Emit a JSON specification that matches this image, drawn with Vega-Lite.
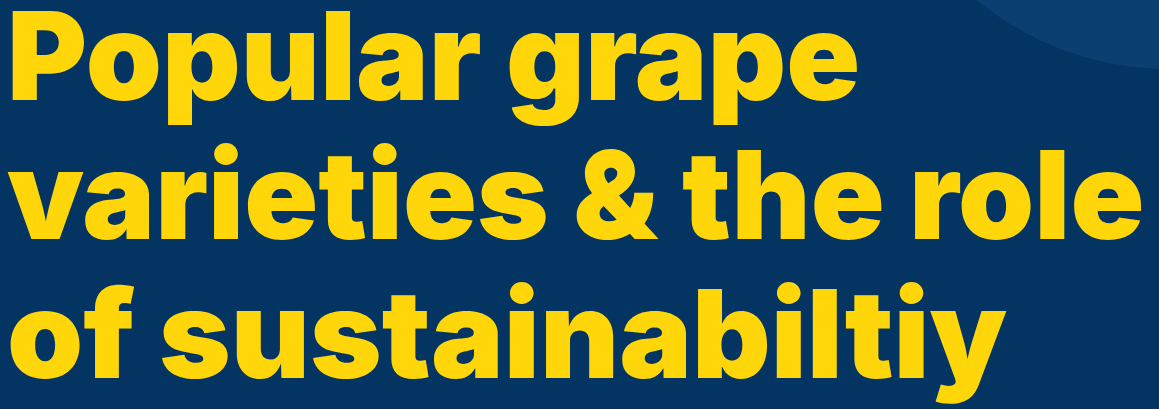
{
  "$schema": "https://vega.github.io/schema/vega-lite/v6.json",
  "width": 1159,
  "height": 409,
  "padding": 0,
  "autosize": {"type": "none"},
  "background": "#033462",
  "config": {"view": {"stroke": null}},
  "layer": [
    {
      "data": {"values": [{"cx": 1169, "cy": -234}]},
      "mark": {"type": "point", "shape": "circle", "filled": true, "color": "#0C3F71", "opacity": 1, "size": 367236},
      "encoding": {
        "x": {"field": "cx", "type": "quantitative", "scale": {"domain": [0, 1159], "nice": false, "zero": false}, "axis": null},
        "y": {"field": "cy", "type": "quantitative", "scale": {"domain": [0, 409], "reverse": true, "nice": false, "zero": false}, "axis": null}
      }
    },
    {
      "data": {"values": [
        {"text": "Popular grape", "left": 7, "baseline": 100},
        {"text": "varieties & the role", "left": 7, "baseline": 239},
        {"text": "of sustainabiltiy", "left": 7, "baseline": 378}
      ]},
      "mark": {"type": "text", "align": "left", "baseline": "alphabetic", "font": "Inter", "fontWeight": 900, "fontSize": 122, "color": "#FFD60A"},
      "encoding": {
        "x": {"field": "left", "type": "quantitative", "scale": {"domain": [0, 1159], "nice": false, "zero": false}, "axis": null},
        "y": {"field": "baseline", "type": "quantitative", "scale": {"domain": [0, 409], "reverse": true, "nice": false, "zero": false}, "axis": null},
        "text": {"field": "text", "type": "nominal"}
      }
    }
  ]
}
